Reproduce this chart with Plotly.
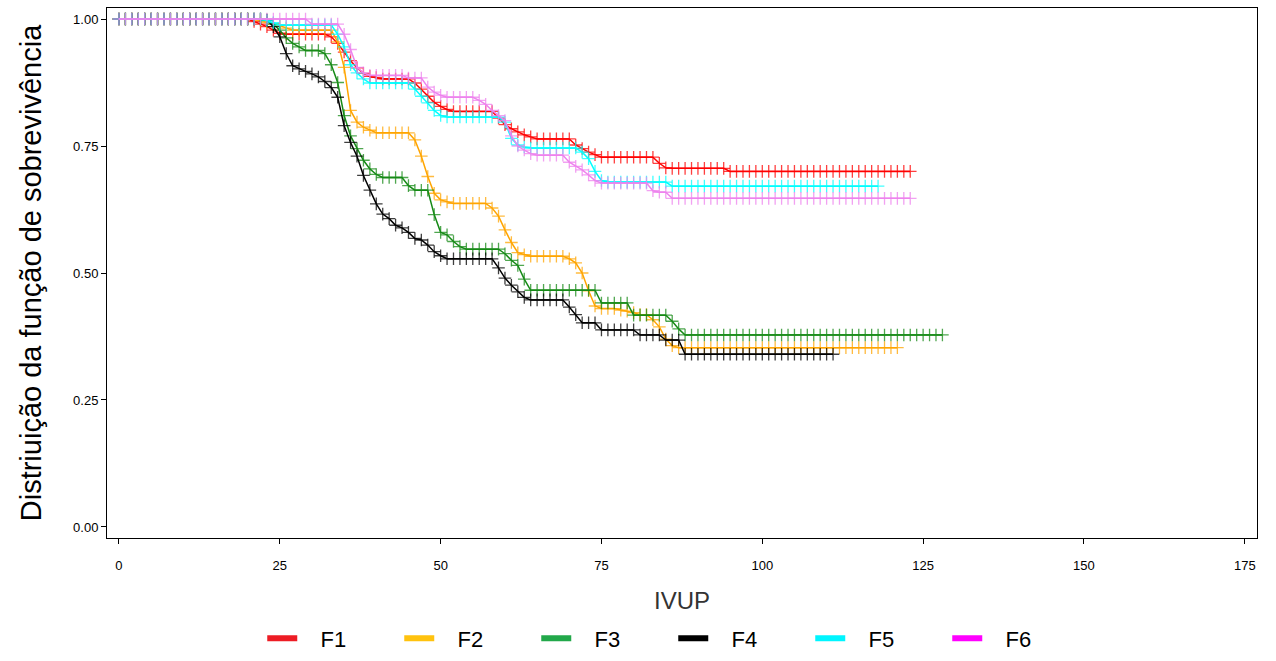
import plotly.graph_objects as go

# Survival estimates at integer IVUP times (t = 0, 1, 2, ...)
F1 = ([1.0] * 21 + [0.995, 0.99, 0.985, 0.978, 0.972] + [0.970] * 7 +
      [0.965, 0.952, 0.935, 0.918, 0.904, 0.893, 0.887, 0.885] + [0.882] * 5 +
      [0.874, 0.862, 0.848, 0.836, 0.828, 0.822] + [0.818] * 7 +
      [0.805, 0.792, 0.784, 0.778, 0.772, 0.768] + [0.764] * 6 +
      [0.752, 0.745, 0.738, 0.733] + [0.728] * 9 + [0.716, 0.707] +
      [0.706] * 9 + [0.700] * 29)

F2 = ([1.0] * 22 + [0.997, 0.993, 0.99, 0.987, 0.982] + [0.978] * 7 +
      [0.955, 0.905, 0.82, 0.797, 0.787, 0.781] + [0.776] * 6 +
      [0.762, 0.73, 0.69, 0.657, 0.644, 0.64] + [0.637] * 6 +
      [0.628, 0.612, 0.585, 0.56, 0.54, 0.536] + [0.533] * 6 +
      [0.528, 0.52, 0.5, 0.465, 0.435] + [0.430] * 3 + [0.427, 0.425, 0.422] +
      [0.418] * 2 + [0.408, 0.394, 0.37, 0.357] + [0.353] * 35)

F3 = ([1.0] * 23 + [0.998, 0.99, 0.978, 0.963, 0.952, 0.945] + [0.938] * 3 +
      [0.932, 0.91, 0.875, 0.81, 0.77, 0.745, 0.722, 0.705, 0.694] + [0.688] * 4 +
      [0.672] + [0.663] * 3 + [0.615, 0.58, 0.575, 0.562, 0.552] + [0.547] * 6 +
      [0.538, 0.525, 0.515, 0.488] + [0.466] * 11 + [0.441] * 5 + [0.417] * 6 +
      [0.405, 0.39] + [0.378] * 41)

F4 = ([1.0] * 23 + [0.998, 0.985, 0.965, 0.932, 0.908, 0.902, 0.897, 0.892,
                     0.886, 0.877, 0.865, 0.846, 0.79, 0.757, 0.73, 0.692, 0.663,
                     0.636, 0.616, 0.607, 0.594, 0.589, 0.58, 0.568, 0.565, 0.555,
                     0.542, 0.534] + [0.528] * 8 +
      [0.51, 0.49, 0.476, 0.463, 0.452] + [0.447] * 6 + [0.433, 0.418] +
      [0.402] * 3 + [0.388] * 6 + [0.378] * 4 + [0.368] * 3 + [0.340] * 24)

F5 = ([1.0] * 23 + [0.997, 0.993] + [0.988] * 9 +
      [0.97, 0.945, 0.91, 0.894, 0.882] + [0.874] * 7 +
      [0.862, 0.848, 0.835, 0.82, 0.81] + [0.807] * 9 +
      [0.797, 0.765, 0.752, 0.748] + [0.746] * 8 +
      [0.738, 0.725, 0.7, 0.682] + [0.679] * 10 + [0.671] * 33)

F6 = ([1.0] * 30 + [0.99] * 5 + [0.97, 0.94, 0.905, 0.894] + [0.889] * 6 +
      [0.884] * 3 + [0.866, 0.856, 0.85] + [0.846] * 5 +
      [0.84, 0.832, 0.82, 0.81, 0.8, 0.77, 0.75, 0.742, 0.735] + [0.732] * 5 +
      [0.718, 0.71, 0.703, 0.693, 0.682] + [0.677] * 8 + [0.662] + [0.659] * 2 +
      [0.647] * 38)

series_names = ["F1", "F2", "F3", "F4", "F5", "F6"]
series_values = [F1, F2, F3, F4, F5, F6]
line_colors = ["#FF0000", "#FFA500", "#168A16", "#000000", "#00FFFF", "#EE82EE"]
legend_colors = ["#ED1C24", "#FFC20E", "#22A84A", "#000000", "#00F5FF", "#FF00FF"]

x_ticks = [0, 25, 50, 75, 100, 125, 150, 175]
y_ticks = [0.0, 0.25, 0.5, 0.75, 1.0]

fig = go.Figure()

for name, vals, col in zip(series_names, series_values, line_colors):
    fig.add_trace(go.Scatter(
        x=list(range(len(vals))), y=vals, mode="lines+markers", name=name,
        line=dict(color=col, width=1.5),
        marker=dict(symbol="cross-thin", size=9, opacity=0.75,
                    line=dict(color=col, width=1.3)),
        showlegend=False, hoverinfo="x+y+name"))

for name, col in zip(series_names, legend_colors):
    fig.add_trace(go.Scatter(
        x=[None], y=[None], mode="lines", name="   " + name,
        line=dict(color=col, width=6), showlegend=True))

axis_common = dict(showline=True, linecolor="#000000", linewidth=1, mirror=True,
                   ticks="outside", ticklen=5, tickcolor="#000000",
                   showgrid=False, zeroline=False, automargin=False,
                   tickfont=dict(family="Liberation Sans, Arial", size=13, color="#000000"))

fig.update_layout(
    width=1276, height=661,
    margin=dict(l=107, r=19, t=8, b=123, autoexpand=False),
    paper_bgcolor="white", plot_bgcolor="white",
    xaxis=dict(range=[-1.86, 176.9], tickvals=x_ticks, ticklabelstandoff=10,
               title=dict(text="IVUP", standoff=20,
                          font=dict(family="Liberation Sans, Arial", size=24, color="#333333")),
               **axis_common),
    yaxis=dict(range=[-0.0217, 1.0217], tickvals=y_ticks, tickformat=".2f",
               title=dict(text="Distriuição da função de sobrevivência", standoff=22,
                          font=dict(family="Liberation Sans, Arial", size=29, color="#000000")),
               **axis_common),
    legend=dict(orientation="h", x=0.135, xanchor="left", y=-0.15, yanchor="top",
                font=dict(family="Liberation Sans Narrow, Liberation Sans, Arial",
                          size=22, color="#000000"),
                entrywidth=92, entrywidthmode="pixels",
                bgcolor="rgba(0,0,0,0)"),
)

fig.write_html("out.html")
